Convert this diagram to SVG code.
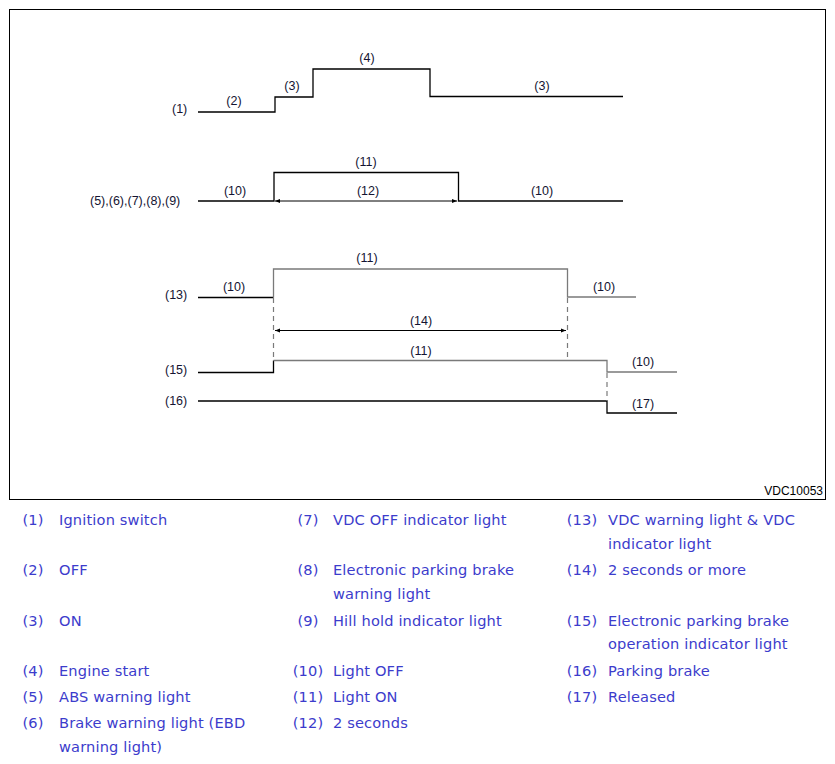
<svg xmlns="http://www.w3.org/2000/svg" width="835" height="764" viewBox="0 0 835 764">
<style>
.frame{fill:#fff;stroke:#000;stroke-width:1}
.sig{fill:none;stroke:#000;stroke-width:1.3}
.sigg{fill:none;stroke:#7a7a7a;stroke-width:1.3}
.dash{fill:none;stroke:#7a7a7a;stroke-width:1.2;stroke-dasharray:5 4}
.dim{fill:none;stroke:#000;stroke-width:1}
.lbl{font-family:"Liberation Sans",Arial,sans-serif;font-size:12.5px;fill:#141432}
.lc{text-anchor:middle}
.code{font-family:"Liberation Sans",Arial,sans-serif;font-size:12px;fill:#000;text-anchor:end}
.leg{font-family:"DejaVu Sans",Verdana,sans-serif;font-size:14.6px;fill:#3c3ccc;letter-spacing:0.15px}
.num{text-anchor:middle}
</style>
<defs>
<marker id="ah" markerWidth="6" markerHeight="6" refX="5" refY="3" orient="auto-start-reverse" markerUnits="userSpaceOnUse">
<path d="M0,1 L5,3 L0,5 z" fill="#000"/>
</marker>
</defs>
<rect class="frame" x="9.5" y="9.5" width="816" height="490"/>
<text class="code" x="823" y="495">VDC10053</text>

<g id="sig1">
<text class="lbl" x="172" y="113">(1)</text>
<polyline class="sig" points="198,112 275,112 275,97 313,97 313,69 430,69 430,96.5 623,96.5"/>
<text class="lbl lc" x="234" y="105">(2)</text>
<text class="lbl lc" x="292" y="90">(3)</text>
<text class="lbl lc" x="367" y="62">(4)</text>
<text class="lbl lc" x="542" y="90">(3)</text>
</g>

<g id="sig5">
<text class="lbl" x="90" y="205">(5),(6),(7),(8),(9)</text>
<polyline class="sig" points="198,201 274,201 274,172.5 458.5,172.5 458.5,201 623,201"/>
<text class="lbl lc" x="235" y="195">(10)</text>
<text class="lbl lc" x="366" y="166">(11)</text>
<text class="lbl lc" x="368" y="195">(12)</text>
<text class="lbl lc" x="542" y="195">(10)</text>
</g>

<g id="sig13">
<text class="lbl" x="165" y="299">(13)</text>
<polyline class="sig" points="198,297.5 273.5,297.5"/>
<polyline class="sigg" points="273.5,297.5 273.5,269 567.5,269 567.5,297 636,297"/>
<text class="lbl lc" x="234" y="291">(10)</text>
<text class="lbl lc" x="367" y="262">(11)</text>
<text class="lbl lc" x="604" y="291">(10)</text>
</g>

<g id="sig15">
<text class="lbl" x="165" y="374">(15)</text>
<polyline class="sig" points="198,372.5 273.5,372.5 273.5,360.5"/>
<polyline class="sigg" points="273.5,360.5 607,360.5 607,372 677,372"/>
<text class="lbl lc" x="421" y="355">(11)</text>
<text class="lbl lc" x="643" y="366">(10)</text>
</g>

<g id="sig16">
<text class="lbl" x="165" y="405">(16)</text>
<polyline class="sig" points="198,401 607,401 607,413 677,413"/>
<text class="lbl lc" x="643" y="408">(17)</text>
</g>

<g id="connectors">
<line class="dim" x1="275" y1="201" x2="457" y2="201" marker-start="url(#ah)" marker-end="url(#ah)"/>
<line class="dash" x1="273.5" y1="298" x2="273.5" y2="360"/>
<line class="dash" x1="567.5" y1="298" x2="567.5" y2="360"/>
<line class="dash" x1="607" y1="373" x2="607" y2="401"/>
<line class="dim" x1="275" y1="330.5" x2="566" y2="330.5" marker-start="url(#ah)" marker-end="url(#ah)"/>
<text class="lbl lc" x="421" y="325">(14)</text>
</g>

<g id="legend">
<text class="leg num" x="33" y="525">(1)</text><text class="leg" x="59" y="525">Ignition switch</text>
<text class="leg num" x="33" y="575">(2)</text><text class="leg" x="59" y="575">OFF</text>
<text class="leg num" x="33" y="626">(3)</text><text class="leg" x="59" y="626">ON</text>
<text class="leg num" x="33" y="676">(4)</text><text class="leg" x="59" y="676">Engine start</text>
<text class="leg num" x="33" y="702">(5)</text><text class="leg" x="59" y="702">ABS warning light</text>
<text class="leg num" x="33" y="728">(6)</text><text class="leg" x="59" y="728">Brake warning light (EBD</text>
<text class="leg" x="59" y="752">warning light)</text>

<text class="leg num" x="308" y="525">(7)</text><text class="leg" x="333" y="525">VDC OFF indicator light</text>
<text class="leg num" x="308" y="575">(8)</text><text class="leg" x="333" y="575">Electronic parking brake</text>
<text class="leg" x="333" y="599">warning light</text>
<text class="leg num" x="308" y="626">(9)</text><text class="leg" x="333" y="626">Hill hold indicator light</text>
<text class="leg num" x="308" y="676">(10)</text><text class="leg" x="333" y="676">Light OFF</text>
<text class="leg num" x="308" y="702">(11)</text><text class="leg" x="333" y="702">Light ON</text>
<text class="leg num" x="308" y="728">(12)</text><text class="leg" x="333" y="728">2 seconds</text>

<text class="leg num" x="582" y="525">(13)</text><text class="leg" x="608" y="525">VDC warning light &amp; VDC</text>
<text class="leg" x="608" y="549">indicator light</text>
<text class="leg num" x="582" y="575">(14)</text><text class="leg" x="608" y="575">2 seconds or more</text>
<text class="leg num" x="582" y="626">(15)</text><text class="leg" x="608" y="626">Electronic parking brake</text>
<text class="leg" x="608" y="649">operation indicator light</text>
<text class="leg num" x="582" y="676">(16)</text><text class="leg" x="608" y="676">Parking brake</text>
<text class="leg num" x="582" y="702">(17)</text><text class="leg" x="608" y="702">Released</text>
</g>
</svg>
